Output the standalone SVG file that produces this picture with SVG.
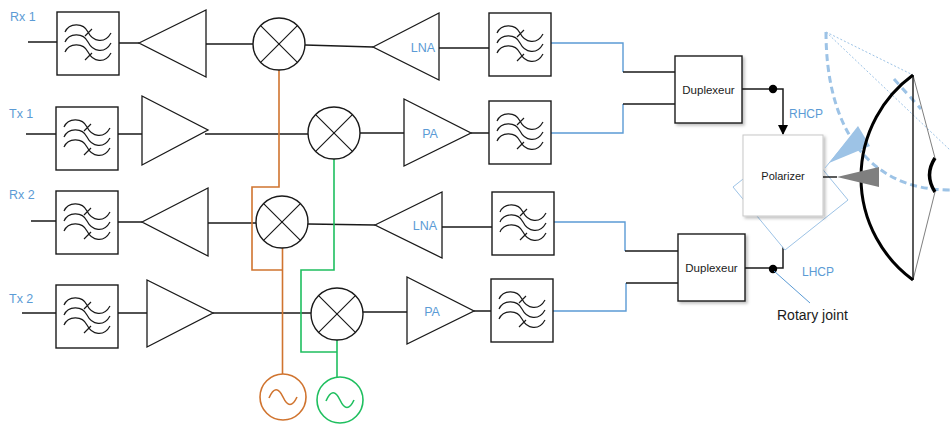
<svg xmlns="http://www.w3.org/2000/svg" xmlns:xlink="http://www.w3.org/1999/xlink" width="950" height="426" viewBox="0 0 950 426">
  <style>
    .w { fill: none; stroke: #1a1a1a; stroke-width: 1.5; }
    .box { fill: #ffffff; stroke: #1a1a1a; stroke-width: 1.4; }
    .amp { fill: #ffffff; stroke: #1a1a1a; stroke-width: 1.3; }
    .blue { fill: none; stroke: #5b9bd5; stroke-width: 1.4; }
    .orange { fill: none; stroke: #d0742f; stroke-width: 1.6; }
    .green { fill: none; stroke: #1fbf5f; stroke-width: 1.6; }
    .lbl { font-family: "Liberation Sans", Arial, sans-serif; font-size: 12.5px; fill: #5b9bd5; }
    .txt { font-family: "Liberation Sans", Arial, sans-serif; font-size: 11.5px; fill: #1a1a1a; }
  </style>
  <defs>
    <!-- band filter block: square with three wavy lines and two slash ticks -->
    <g id="flt">
      <rect class="box" x="0" y="0" width="62" height="63"/>
      <path class="w" style="stroke-width:1.2" d="M8,20 C12,11 26,10 31,20 S48,32 54,21 M8,30 C12,21 26,20 31,30 S48,42 54,31 M8,40 C12,31 26,30 31,40 S48,52 54,41 M28,24 L35,17 M28,48 L35,41"/>
    </g>
    <!-- mixer: circle with a cross -->
    <g id="mix">
      <circle r="26" fill="#ffffff" stroke="#1a1a1a" stroke-width="1.4"/>
      <path class="w" style="stroke-width:1.2" d="M-18.4,-18.4 L18.4,18.4 M18.4,-18.4 L-18.4,18.4"/>
    </g>
    <marker id="arr" markerWidth="10" markerHeight="10" refX="9" refY="5" orient="auto" markerUnits="userSpaceOnUse">
      <path d="M0,0 L10,5 L0,10 Z" fill="#000"/>
    </marker>
    <filter id="sh" x="-10%" y="-10%" width="130%" height="130%">
      <feDropShadow dx="2" dy="2" stdDeviation="1.5" flood-color="#000" flood-opacity="0.25"/>
    </filter>
  </defs>

  <!-- connectors -->
  <g id="connectors">
    <!-- Rx1 chain -->
    <path class="w" d="M28,42 H57 M119,43 H139 M206,44 H253 M305,45 L373,47 M439,48 H489"/>
    <!-- Tx1 chain -->
    <path class="w" d="M26,134 H56 M118,134 H142 M205,134 H308 M360,133 H404 M471,133 H489"/>
    <!-- Rx2 chain -->
    <path class="w" d="M31,221 H56 M118,222 H142 M208,223 H256 M308,224 L375,225 M442,227 H492"/>
    <!-- Tx2 chain -->
    <path class="w" d="M22,313 H56 M118,313 H147 M213,313 H311 M363,312 H407 M474,311 H491"/>

    <!-- filter outputs to the duplexers -->
    <path class="blue" d="M551,43 H623 V72"/>
    <path class="blue" d="M551,133 H623 V104"/>
    <path class="w" d="M623,72 H675 M623,104 H675"/>
    <path class="blue" d="M554,222 H625 V251"/>
    <path class="blue" d="M553,311 H626 V283"/>
    <path class="w" d="M625,251 H678 M626,283 H678"/>

    <!-- duplexers to polarizer -->
    <path class="w" d="M742,89 H783 V134" marker-end="url(#arr)"/>
    <path class="w" d="M745,268 H783 V217" marker-end="url(#arr)"/>
    <circle cx="773" cy="89" r="4.2" fill="#000"/>
    <circle cx="773" cy="269" r="4.2" fill="#000"/>
    <!-- rotary joint leader -->
    <path d="M774,271 L810,303" fill="none" stroke="#5b9bd5" stroke-width="1"/>

    <!-- local oscillator 1 (orange) -->
    <path class="orange" d="M279,70 V187 H252 V270 H282.5"/>
    <path class="orange" d="M282.5,248 V374"/>
    <!-- local oscillator 2 (green) -->
    <path class="green" d="M334,159 V270 H301 V352 H337"/>
    <path class="green" d="M337,340 V377"/>
  </g>

  <!-- labels -->
  <g id="labels">
    <text class="lbl" x="10" y="21">Rx 1</text>
    <text class="lbl" x="9" y="118">Tx 1</text>
    <text class="lbl" x="9" y="199">Rx 2</text>
    <text class="lbl" x="9" y="303">Tx 2</text>
    <text class="lbl" x="789" y="118" style="font-size:12px">RHCP</text>
    <text class="lbl" x="802" y="276" style="font-size:12px">LHCP</text>
    <text x="777" y="320" style="font-family:'Liberation Sans',Arial,sans-serif;font-size:14px;fill:#1a1a1a">Rotary joint</text>
  </g>

  <!-- filters -->
  <g id="filter-rx1"><use xlink:href="#flt" x="57" y="12"/></g>
  <g id="filter-tx1"><use xlink:href="#flt" x="56" y="107"/></g>
  <g id="filter-rx2"><use xlink:href="#flt" x="56" y="191"/></g>
  <g id="filter-tx2"><use xlink:href="#flt" x="56" y="285"/></g>
  <g id="filter-rx1-out"><use xlink:href="#flt" x="489" y="13"/></g>
  <g id="filter-tx1-out"><use xlink:href="#flt" x="489" y="101"/></g>
  <g id="filter-rx2-out"><use xlink:href="#flt" x="492" y="192"/></g>
  <g id="filter-tx2-out"><use xlink:href="#flt" x="491" y="279"/></g>

  <!-- IF amplifiers -->
  <g id="amp-rx1"><polygon class="amp" points="139,43 206,10 206,77"/></g>
  <g id="amp-tx1"><polygon class="amp" points="142,96 142,165 208,130"/></g>
  <g id="amp-rx2"><polygon class="amp" points="142,222 208,188 208,256"/></g>
  <g id="amp-tx2"><polygon class="amp" points="147,280 147,347 213,313"/></g>

  <!-- mixers -->
  <g id="mixer-rx1"><use xlink:href="#mix" x="279" y="44"/></g>
  <g id="mixer-tx1"><use xlink:href="#mix" x="334" y="133"/></g>
  <g id="mixer-rx2"><use xlink:href="#mix" x="282" y="222"/></g>
  <g id="mixer-tx2"><use xlink:href="#mix" x="337" y="314"/></g>

  <!-- RF amplifiers -->
  <g id="lna-1">
    <polygon class="amp" points="373,47 439,13 439,80"/>
    <text class="lbl" x="423" y="52" text-anchor="middle">LNA</text>
  </g>
  <g id="pa-1">
    <polygon class="amp" points="404,99 404,166 471,133"/>
    <text class="lbl" x="430" y="138" text-anchor="middle">PA</text>
  </g>
  <g id="lna-2">
    <polygon class="amp" points="375,225 442,192 442,258"/>
    <text class="lbl" x="425" y="230" text-anchor="middle">LNA</text>
  </g>
  <g id="pa-2">
    <polygon class="amp" points="407,277 407,344 474,311"/>
    <text class="lbl" x="432" y="316" text-anchor="middle">PA</text>
  </g>

  <!-- local oscillators -->
  <g id="lo-1">
    <circle cx="283" cy="397" r="23" fill="#fff" stroke="#d0742f" stroke-width="1.6"/>
    <path d="M269,398 Q276,382 283,397 T297,397" fill="none" stroke="#d0742f" stroke-width="1.6"/>
  </g>
  <g id="lo-2">
    <circle cx="340" cy="400" r="23" fill="#fff" stroke="#1fbf5f" stroke-width="1.6"/>
    <path d="M326,401 Q333,385 340,400 T354,400" fill="none" stroke="#1fbf5f" stroke-width="1.6"/>
  </g>

  <!-- duplexers -->
  <g id="duplexer-1">
    <rect class="box" x="675" y="56" width="67" height="67" filter="url(#sh)"/>
    <text class="txt" x="708.5" y="94" text-anchor="middle">Duplexeur</text>
  </g>
  <g id="duplexer-2">
    <rect class="box" x="678" y="234" width="67" height="67" filter="url(#sh)"/>
    <text class="txt" x="711.5" y="272" text-anchor="middle">Duplexeur</text>
  </g>

  <!-- antenna: beam sweep, reflector, feed -->
  <g id="antenna">
    <path d="M826,32 C826,125 866,190 950,190" fill="none" stroke="#9dc3e6" stroke-width="3" stroke-dasharray="7,4"/>
    <path d="M894,79 L921,109" fill="none" stroke="#9dc3e6" stroke-width="3" stroke-dasharray="7,5"/>
    <path d="M826,32 L913,75 M826,32 L950,150" fill="none" stroke="#9dc3e6" stroke-width="1" stroke-dasharray="2,2"/>
    <polygon points="829,163 858,126 870,146" fill="#9dc3e6"/>
    <path d="M913,75 L935,158 M935,192 L913,280" fill="none" stroke="#7f7f7f" stroke-width="1"/>
    <path d="M913,75 V280" fill="none" stroke="#000" stroke-width="1.3"/>
    <path d="M913,75 A127,127 0 0 0 913,280" fill="none" stroke="#000" stroke-width="3"/>
    <path d="M935,158 Q924,175 935,192" fill="none" stroke="#000" stroke-width="3.5"/>
  </g>

  <!-- polarizer with rotated plate behind -->
  <g id="polarizer">
    <polygon points="796,137 848,200 785,250 733,187" fill="#fff" stroke="#9dc3e6" stroke-width="1"/>
    <rect x="743" y="135" width="80" height="81" fill="#fff" stroke="#c8c8c8" stroke-width="1" filter="url(#sh)"/>
    <text class="txt" x="783" y="180" text-anchor="middle" style="font-size:11px">Polarizer</text>
    <path d="M823,177 H837" stroke="#000" stroke-width="1.3"/>
    <polygon points="837,177 879,167 879,187" fill="#7f7f7f"/>
    <path d="M825,168 L858,128" stroke="#9dc3e6" stroke-width="1"/>
  </g>
</svg>
